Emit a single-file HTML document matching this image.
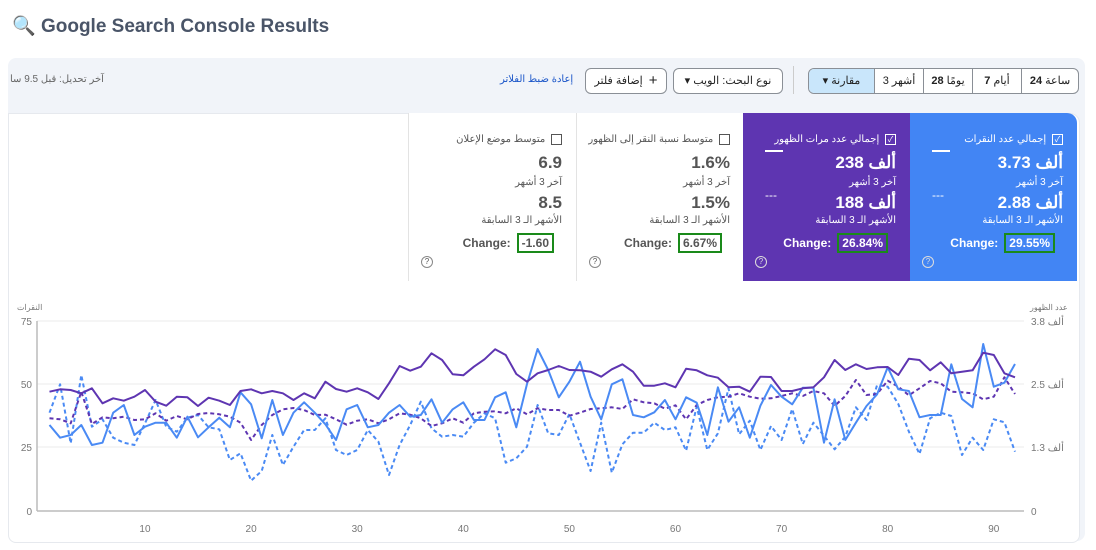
<!DOCTYPE html>
<html><head><meta charset="utf-8"><style>
body{margin:0;width:1096px;height:550px;background:#fff;font-family:"Liberation Sans","Noto Sans CJK SC",sans-serif;position:relative;overflow:hidden}
.abs{position:absolute}
.title{left:12px;top:14px;font-size:19px;font-weight:bold;color:#4a5568}
.panel{left:8px;top:58px;width:1077px;height:483px;background:#f1f4f9;border-radius:8px}
.white{left:8px;top:113px;width:1070px;height:428px;background:#fff;border-radius:0 10px 8px 8px;border:1px solid #e6e9ee}
.btn{position:absolute;border:1px solid #8a8f96;border-radius:6px;height:24px;top:68px;background:#fff;font-size:11px;color:#222;line-height:24px;text-align:center}
.card{position:absolute;top:113px;height:168px;width:167px;text-align:right;font-size:10px;color:#555}
.card .h{position:absolute;right:14px;top:21px}
.card .v{position:absolute;right:14px;font-size:17px;font-weight:bold}
.card .s{position:absolute;right:14px;font-size:10px}
.card .c{position:absolute;right:22px;top:120px;font-size:12px;font-weight:bold;direction:ltr;unicode-bidi:isolate}
.card .c span{border:2px solid #1a8a1a;padding:1px 3px;margin-left:6px;display:inline-block}
.q{position:absolute;left:12px;top:143px;width:10px;height:10px;border:1.5px solid #888;border-radius:50%;font-size:8px;line-height:10px;text-align:center}
.cb{display:inline-block;width:9px;height:9px;border:1px solid #555;vertical-align:middle;margin-left:3px;font-size:8px;line-height:9px;text-align:center}
</style></head><body>
<div class="abs title"><span style="color:#1a73e8">🔍</span> Google Search Console Results</div>
<div class="abs panel"></div>
<div class="abs white"></div>
<div class="abs" style="left:10px;top:74px;font-size:10px;color:#666">آخر تحديل: قبل 9.5 سا</div>
<div class="abs" style="left:500px;top:74px;font-size:10px;color:#1a55c8">إعادة ضبط الفلاتر</div>
<div class="btn" style="left:585px;width:80px;display:flex;justify-content:center;gap:6px"><span style="display:inline-block">إضافة فلتر</span><span style="display:inline-block;font-size:15px">+</span></div>
<div class="btn" style="left:673px;width:108px">▾ نوع البحث: الويب</div>
<div class="abs" style="left:793px;top:66px;width:1px;height:28px;background:#ccc"></div>
<div class="btn" style="left:808px;width:269px;overflow:hidden;display:flex">
<div style="width:65px;background:#c9e6fb;border-right:1px solid #8a8f96">▾ مقارنة</div>
<div style="width:48px;border-right:1px solid #8a8f96">3 أشهر</div>
<div style="width:48px;border-right:1px solid #8a8f96"><b>28</b> يومًا</div>
<div style="width:48px;border-right:1px solid #8a8f96"><b>7</b> أيام</div>
<div style="flex:1"><b>24</b> ساعة</div></div>

<div class="card" style="left:408px;background:#fff;border-left:1px solid #e3e3e3">
<div class="h">متوسط موضع الإعلان <span class="cb"></span></div>
<div class="v" style="top:40px;color:#555">6.9</div><div class="s" style="top:64px">آخر 3 أشهر</div>
<div class="v" style="top:80px;color:#555">8.5</div><div class="s" style="top:102px">الأشهر الـ 3 السابقة</div>
<div class="c">Change:<span>-1.60</span></div><div class="q">?</div></div>
<div class="card" style="left:576px;background:#fff;border-left:1px solid #e3e3e3">
<div class="h">متوسط نسبة النقر إلى الظهور <span class="cb"></span></div>
<div class="v" style="top:40px;color:#555">1.6%</div><div class="s" style="top:64px">آخر 3 أشهر</div>
<div class="v" style="top:80px;color:#555">1.5%</div><div class="s" style="top:102px">الأشهر الـ 3 السابقة</div>
<div class="c">Change:<span>6.67%</span></div><div class="q">?</div></div>
<div class="card" style="left:743px;background:#5e35b1;color:#fff">
<div class="h">إجمالي عدد مرات الظهور <span class="cb" style="border-color:#fff">✓</span></div>
<div class="v" style="top:40px">238 ألف</div><div class="s" style="top:64px">آخر 3 أشهر</div>
<div class="v" style="top:80px">188 ألف</div><div class="s" style="top:102px">الأشهر الـ 3 السابقة</div>
<div class="abs" style="left:22px;top:37px;width:18px;height:2px;background:#fff"></div>
<div class="abs" style="left:22px;top:75px;font-size:12px">---</div>
<div class="c">Change:<span>26.84%</span></div><div class="q" style="border-color:#ddd;color:#ddd">?</div></div>
<div class="card" style="left:910px;background:#4285f4;color:#fff;border-radius:0 10px 0 0">
<div class="h">إجمالي عدد النقرات <span class="cb" style="border-color:#fff">✓</span></div>
<div class="v" style="top:40px">3.73 ألف</div><div class="s" style="top:64px">آخر 3 أشهر</div>
<div class="v" style="top:80px">2.88 ألف</div><div class="s" style="top:102px">الأشهر الـ 3 السابقة</div>
<div class="abs" style="left:22px;top:37px;width:18px;height:2px;background:#fff"></div>
<div class="abs" style="left:22px;top:75px;font-size:12px">---</div>
<div class="c">Change:<span>29.55%</span></div><div class="q" style="border-color:#ddd;color:#ddd">?</div></div>

<svg class="abs" style="left:0;top:0" width="1096" height="550" id="s">
<g font-size="10" fill="#777" font-family="Liberation Sans,Noto Sans CJK SC,sans-serif">
<text x="17" y="310" font-size="8">النقرات</text>
<text x="1030" y="310" font-size="8">عدد الظهور</text>
<text x="32" y="325" text-anchor="end">75</text><text x="32" y="388" text-anchor="end">50</text>
<text x="32" y="451" text-anchor="end">25</text><text x="32" y="515" text-anchor="end">0</text>
<text x="1031" y="325">3.8 ألف</text><text x="1031" y="388">2.5 ألف</text>
<text x="1031" y="451">1.3 ألف</text><text x="1031" y="515">0</text>
</g>
<g stroke="#ebebeb"><line x1="37" x2="1024" y1="321" y2="321"/><line x1="37" x2="1024" y1="384" y2="384"/><line x1="37" x2="1024" y1="447" y2="447"/></g>
<line x1="37" x2="1024" y1="511" y2="511" stroke="#bbb" stroke-width="1.5"/>
<line x1="37" x2="37" y1="321" y2="511" stroke="#bbb" stroke-width="1.5"/>
<g id="xt" font-size="10" fill="#777" text-anchor="middle" font-family="Liberation Sans,sans-serif"></g>
</svg>
<script>
var ps=[305,298,300,310,295,340,325,332,320,300,335,347,320,322,348,323,332,345,303,298,310,303,310,330,310,325,275,297,305,295,307,327,280,228,242,230,190,210,253,256,230,208,178,195,252,275,250,240,228,240,241,245,260,238,223,245,287,287,280,292,236,241,256,263,292,290,305,260,261,303,303,295,292,262,210,240,223,237,232,231,255,206,210,241,217,250,245,241,188,195,250,262];
var pd=[385,388,400,305,402,382,385,380,390,388,370,392,378,388,372,369,373,380,398,450,405,375,358,354,360,375,374,388,404,392,388,400,388,370,374,385,408,400,385,398,370,365,364,370,355,373,355,360,360,377,368,357,355,352,357,328,337,340,356,346,388,345,330,322,320,310,320,326,325,318,310,318,303,310,348,318,270,315,312,272,290,316,295,273,280,305,307,310,328,320,262,312];
var bs=[405,443,435,405,465,458,368,345,435,410,398,398,443,380,442,412,383,412,307,343,445,330,435,368,337,368,403,450,358,345,412,405,368,345,380,375,328,398,358,337,390,390,322,307,412,282,177,240,322,275,215,320,388,283,268,375,382,367,330,388,322,338,435,292,395,352,443,347,285,320,343,293,293,458,328,450,398,348,313,232,298,303,382,375,375,223,327,352,162,290,278,222];
var bd=[368,283,460,255,410,388,443,458,465,400,330,410,425,383,375,412,418,510,490,572,543,435,525,470,420,420,385,480,495,480,420,455,555,465,405,335,415,440,435,440,398,370,385,518,505,470,345,430,435,372,458,543,398,548,463,428,428,398,420,412,482,350,480,430,295,433,392,480,408,450,357,462,398,437,478,440,352,390,285,290,342,425,492,385,368,378,495,443,480,388,397,485];
function pts(a){return a.map(function(y,i){return (49.5+i*10.61).toFixed(1)+','+(290+y/3).toFixed(1)}).join(' ')}
var s=document.getElementById('s'),ns='http://www.w3.org/2000/svg';
[[bd,'#4a8af4','4,3'],[pd,'#5e35b1','4,3'],[bs,'#4a8af4',''],[ps,'#5e35b1','']].forEach(function(d){
var p=document.createElementNS(ns,'polyline');p.setAttribute('points',pts(d[0]));p.setAttribute('fill','none');
p.setAttribute('stroke',d[1]);p.setAttribute('stroke-width','2');p.setAttribute('stroke-linejoin','round');
if(d[2])p.setAttribute('stroke-dasharray',d[2]);s.appendChild(p);});
var g=document.getElementById('xt');for(var k=10;k<=90;k+=10){var t=document.createElementNS(ns,'text');t.setAttribute('x',49.5+(k-1)*10.61);t.setAttribute('y',532);t.textContent=k;g.appendChild(t);}
</script>
</body></html>
